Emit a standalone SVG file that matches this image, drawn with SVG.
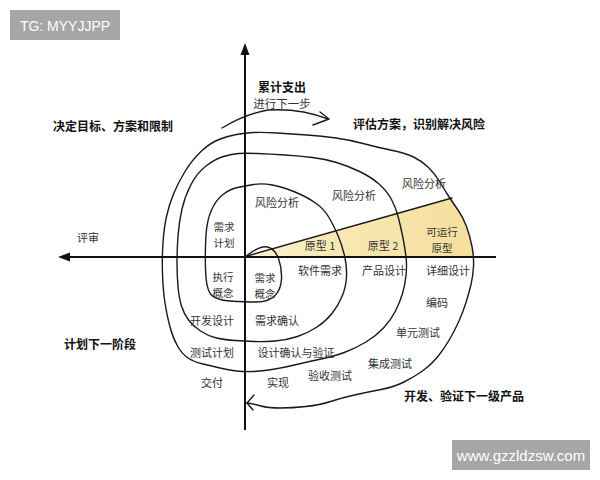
<svg xmlns="http://www.w3.org/2000/svg" width="600" height="480" viewBox="0 0 600 480">
<style>
.t{font-family:"Noto Sans CJK SC","Noto Sans",sans-serif;font-size:11px;fill:#333;text-anchor:middle;dominant-baseline:central}
.s{font-size:10.5px}
.b{font-family:"Noto Sans CJK SC","Noto Sans",sans-serif;font-size:12px;font-weight:700;fill:#111;text-anchor:middle;dominant-baseline:central}
.ln{fill:none;stroke:#1a1a1a;stroke-width:1.4;stroke-linecap:round;stroke-linejoin:round}
.ax{fill:none;stroke:#111;stroke-width:2}
.wm{font-family:"Liberation Sans",Arial,sans-serif;fill:#fff;text-anchor:middle;dominant-baseline:central}
</style>
<defs>
<linearGradient id="yg" x1="245" y1="0" x2="475" y2="0" gradientUnits="userSpaceOnUse">
<stop offset="0" stop-color="#fcf4d8"/>
<stop offset="0.35" stop-color="#f8e8b4"/>
<stop offset="1" stop-color="#f5df9e"/>
</linearGradient>
</defs>
<rect width="600" height="480" fill="#fff"/>
<g id="prototype-area">
<path d="M247,256 L452,198 Q458,210 466,226 Q472,246 474,257 L247,257 Z" fill="url(#yg)"/>
</g>
<g id="connectors">
<path class="ln" d="M245,257 Q260,245 267.5,247 Q275,249 278.5,258.5 Q282,268 281.5,279 Q281,290 274.5,296 Q268,302 256.5,302 Q245,302 230,301 Q215,300 210.5,294 Q206,288 205.5,269 Q205,250 206,235 Q207,220 211.5,210 Q216,200 223,194.5 Q230,189 237.5,187.5 Q245,186 253.5,184.5 Q262,183 272.5,185 Q283,187 295,192 Q307,197 315.5,203 Q324,209 329,217.5 Q334,226 338,235.5 Q342,245 344.5,255.5 Q347,266 346.5,276.5 Q346,287 342,296.5 Q338,306 332,313.5 Q326,321 317,327 Q308,333 297.5,336.5 Q287,340 275,341 Q263,342 254,341.5 Q245,341 235,340.5 Q225,340 216.5,338 Q208,336 200.5,331 Q193,326 188.5,320 Q184,314 181.5,306 Q179,298 178,286.5 Q177,275 177,262.5 Q177,250 178,236 Q179,222 182,209 Q185,196 191,184.5 Q197,173 206,166 Q215,159 223.5,156.5 Q232,154 238.5,153.5 Q245,153 257.5,153.5 Q270,154 285,155 Q300,156 312.5,157.5 Q325,159 336.5,162.5 Q348,166 359.5,171.5 Q371,177 379,184 Q387,191 391.5,199.5 Q396,208 398.5,218 Q401,228 403,238 Q405,248 406,257 Q407,266 406,275.5 Q405,285 402.5,293.5 Q400,302 395.5,311 Q391,320 383.5,328 Q376,336 366,342 Q356,348 345.5,352 Q335,356 321,359 Q307,362 294.5,365 Q282,368 272,369.5 Q262,371 253.5,371.5 Q245,372 236.5,371 Q228,370 220,368 Q212,366 203,364 Q194,362 188,358 Q182,354 177.5,346 Q173,338 170,327 Q167,316 165,303 Q163,290 162.5,273.5 Q162,257 163,242.5 Q164,228 166.5,216.5 Q169,205 173.5,194 Q178,183 185,171.5 Q192,160 201,151.5 Q210,143 219,139.5 Q228,136 236.5,134.5 Q245,133 253.5,132.5 Q262,132 277,133 Q292,134 307,135 Q322,136 336,138 Q350,140 363,143.5 Q376,147 390.5,150 Q405,153 413.5,157 Q422,161 428.5,167.5 Q435,174 439.5,181.5 Q444,189 448.5,196 Q453,203 458,210 Q463,217 466.5,226.5 Q470,236 472,246.5 Q474,257 473.5,266.5 Q473,276 471,284.5 Q469,293 466,302.5 Q463,312 459,321 Q455,330 449.5,339.5 Q444,349 437.5,357 Q431,365 422.5,371 Q414,377 404,382 Q394,387 381,389.5 Q368,392 354.5,395 Q341,398 330.5,401.5 Q320,405 306,406.5 Q292,408 280,408 Q268,408 261,406 Q254,404 250.5,403.5 L247,403"/>
<path class="ln" d="M254,395 L247,403 L253,410"/>
<path class="ln" d="M247,256 L452,198"/>
<path class="ln" d="M222,128 Q245,114 268,110 Q300,108 328,119"/>
<path class="ln" d="M320,112 L329,119 L313,125"/>
<line class="ax" x1="245" y1="52" x2="245" y2="430"/>
<path d="M245,43 L240.5,55 L249.5,55 Z" fill="#111"/>
<line class="ax" x1="68" y1="257" x2="496" y2="257"/>
<path d="M58,257 L70,252.5 L70,261.5 Z" fill="#111"/>
</g>
<g id="quadrant-labels">
<text class="b" x="282" y="86">累计支出</text>
<text class="t" x="282" y="103" style="font-size:11.5px">进行下一步</text>
<text class="b" x="419" y="123">评估方案，识别解决风险</text>
<text class="b" x="113" y="125">决定目标、方案和限制</text>
<text class="t" x="88" y="237">评审</text>
<text class="b" x="100" y="343">计划下一阶段</text>
<text class="b" x="464" y="395">开发、验证下一级产品</text>
</g>
<g id="risk-labels">
<text class="t" x="277" y="202">风险分析</text>
<text class="t" x="354" y="195">风险分析</text>
<text class="t" x="424" y="183">风险分析</text>
</g>
<g id="prototype-labels">
<text class="t" x="320" y="245">原型 1</text>
<text class="t" x="383" y="245">原型 2</text>
<text class="t s" x="442" y="231">可运行<tspan x="442" dy="15.5">原型</tspan></text>
</g>
<g id="plan-labels">
<text class="t s" x="224" y="226">需求<tspan x="224" dy="15.5">计划</tspan></text>
<text class="t s" x="223" y="276">执行<tspan x="223" dy="15.5">概念</tspan></text>
<text class="t s" x="265" y="277">需求<tspan x="265" dy="15.5">概念</tspan></text>
<text class="t" x="212" y="320">开发设计</text>
<text class="t" x="212" y="352">测试计划</text>
<text class="t" x="212" y="382">交付</text>
</g>
<g id="dev-labels">
<text class="t" x="320" y="270">软件需求</text>
<text class="t" x="384" y="270">产品设计</text>
<text class="t" x="448" y="270">详细设计</text>
<text class="t" x="437" y="302">编码</text>
<text class="t" x="277" y="320">需求确认</text>
<text class="t" x="418" y="332">单元测试</text>
<text class="t" x="296" y="352">设计确认与验证</text>
<text class="t" x="390" y="363">集成测试</text>
<text class="t" x="330" y="375">验收测试</text>
<text class="t" x="278" y="382">实现</text>
</g>
<g id="watermark-tg">
<rect x="10" y="10" width="110" height="30" fill="#a6a6a6"/>
<text class="wm" x="65" y="25.5" style="font-size:14px">TG: MYYJJPP</text>
</g>
<g id="watermark-site">
<rect x="452" y="440" width="138" height="30" fill="#a6a6a6"/>
<text class="wm" x="521" y="455" style="font-size:15px">www.gzzldzsw.com</text>
</g>
</svg>
